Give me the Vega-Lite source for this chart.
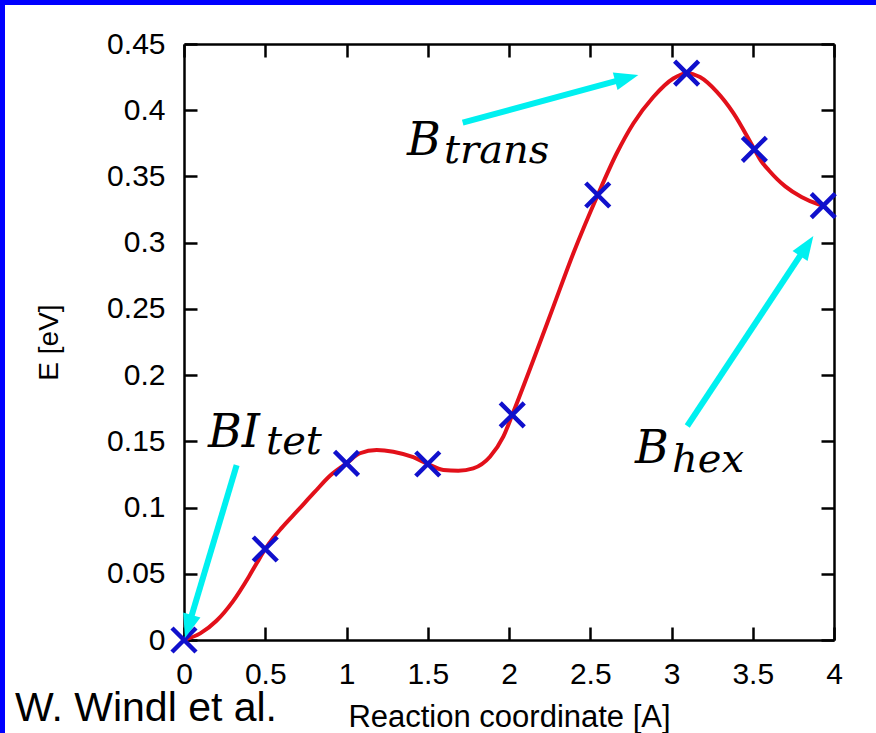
{
  "$schema": "https://vega.github.io/schema/vega-lite/v6.json",
  "width": 650,
  "height": 596,
  "autosize": {"type": "none"},
  "padding": {"left": 184, "top": 44, "right": 42, "bottom": 93},
  "background": "white",
  "config": {
    "view": {"stroke": null},
    "axis": {
      "grid": false,
      "domainColor": "black",
      "domainWidth": 2.5,
      "tickColor": "black",
      "tickWidth": 2.5,
      "tickSize": -13,
      "labelFont": "Liberation Sans",
      "labelFontSize": 30,
      "labelColor": "black",
      "labelFlush": false,
      "labelOverlap": false,
      "titleFont": "Liberation Sans",
      "titleFontWeight": "normal",
      "titleColor": "black"
    }
  },
  "datasets": {
    "curve": [
      {"x": 0, "e": 0},
      {"x": 0.1, "e": 0.005},
      {"x": 0.2, "e": 0.0145},
      {"x": 0.3, "e": 0.029},
      {"x": 0.4, "e": 0.048},
      {"x": 0.45, "e": 0.0585},
      {"x": 0.5, "e": 0.0687},
      {"x": 0.55, "e": 0.0772},
      {"x": 0.6, "e": 0.0845},
      {"x": 0.7, "e": 0.0978},
      {"x": 0.8, "e": 0.1112},
      {"x": 0.9, "e": 0.1242},
      {"x": 1.0, "e": 0.1334},
      {"x": 1.083, "e": 0.141},
      {"x": 1.186, "e": 0.1435},
      {"x": 1.288, "e": 0.1422},
      {"x": 1.411, "e": 0.138},
      {"x": 1.5, "e": 0.1329},
      {"x": 1.596, "e": 0.1284},
      {"x": 1.688, "e": 0.1278},
      {"x": 1.78, "e": 0.1296},
      {"x": 1.883, "e": 0.1384},
      {"x": 1.965, "e": 0.1535},
      {"x": 2.02, "e": 0.17},
      {"x": 2.15, "e": 0.2114},
      {"x": 2.273, "e": 0.2517},
      {"x": 2.396, "e": 0.292},
      {"x": 2.546, "e": 0.336},
      {"x": 2.663, "e": 0.3675},
      {"x": 2.765, "e": 0.39},
      {"x": 2.888, "e": 0.41},
      {"x": 3.011, "e": 0.424},
      {"x": 3.093, "e": 0.428},
      {"x": 3.175, "e": 0.425},
      {"x": 3.278, "e": 0.414},
      {"x": 3.38, "e": 0.398},
      {"x": 3.51, "e": 0.3705},
      {"x": 3.55, "e": 0.362},
      {"x": 3.6, "e": 0.3545},
      {"x": 3.65, "e": 0.348},
      {"x": 3.7, "e": 0.3425},
      {"x": 3.8, "e": 0.3345},
      {"x": 3.9, "e": 0.3292},
      {"x": 3.934, "e": 0.328}
    ],
    "images": [
      {"x": 0, "e": 0},
      {"x": 0.5, "e": 0.0687},
      {"x": 1.0, "e": 0.1334},
      {"x": 1.5, "e": 0.1329},
      {"x": 2.02, "e": 0.17},
      {"x": 2.546, "e": 0.336},
      {"x": 3.093, "e": 0.428},
      {"x": 3.51, "e": 0.3705},
      {"x": 3.934, "e": 0.328}
    ],
    "arrows": [
      {"site": "BI_tet", "x": 0.324, "e": 0.132, "x2": 0.029, "e2": 0.011, "tipx": 0.006, "tipe": 0.0015, "dir": 196.6},
      {"site": "B_trans", "x": 1.715, "e": 0.3906, "x2": 2.719, "e2": 0.424, "tipx": 2.796, "tipe": 0.4266, "dir": 74.8},
      {"site": "B_hex", "x": 3.097, "e": 0.1616, "x2": 3.828, "e2": 0.2969, "tipx": 3.873, "tipe": 0.305, "dir": 33.6}
    ],
    "symbols": [
      {"x": 0.148, "e": 0.146, "text": "BI"},
      {"x": 1.372, "e": 0.3662, "text": "B"},
      {"x": 2.775, "e": 0.1336, "text": "B"}
    ],
    "subscripts": [
      {"x": 0.505, "e": 0.1404, "text": "tet"},
      {"x": 1.6, "e": 0.36, "text": "trans"},
      {"x": 3.003, "e": 0.1271, "text": "hex"}
    ],
    "credit": [
      {"x": -1.04, "e": -0.0615, "text": "W. Windl et al."}
    ],
    "border": [
      {"x": -1.1323, "x2": -1.1323, "e": -0.2, "e2": 0.6},
      {"x": -1.3, "x2": 4.6, "e": 0.48324, "e2": 0.48324}
    ]
  },
  "resolve": {"axis": {"x": "independent", "y": "independent"}},
  "layer": [
    {
      "data": {"name": "curve"},
      "mark": {"type": "line", "color": "#e2101a", "strokeWidth": 4, "interpolate": "monotone"},
      "encoding": {
        "x": {
          "field": "x", "type": "quantitative",
          "scale": {"domain": [0, 4], "nice": false, "zero": false},
          "axis": {
            "orient": "bottom",
            "values": [0, 0.5, 1, 1.5, 2, 2.5, 3, 3.5, 4],
            "format": "~g",
            "labelPadding": 32,
            "title": "Reaction coordinate [A]",
            "titleFontSize": 31,
            "titlePadding": 13
          }
        },
        "y": {
          "field": "e", "type": "quantitative",
          "scale": {"domain": [0, 0.45], "nice": false, "zero": false},
          "axis": {
            "orient": "left",
            "values": [0, 0.05, 0.1, 0.15, 0.2, 0.25, 0.3, 0.35, 0.4, 0.45],
            "format": "~g",
            "labelPadding": 32,
            "title": "E [eV]",
            "titleFontSize": 28,
            "titlePadding": 43
          }
        }
      }
    },
    {
      "data": {"name": "images"},
      "mark": {"type": "point", "shape": "M-1,-1L1,1M1,-1L-1,1", "filled": false, "stroke": "#1010cc", "strokeWidth": 4.5, "size": 576, "opacity": 1},
      "encoding": {
        "x": {
          "field": "x", "type": "quantitative",
          "axis": {"orient": "top", "values": [0, 0.5, 1, 1.5, 2, 2.5, 3, 3.5, 4], "labels": false, "title": null}
        },
        "y": {
          "field": "e", "type": "quantitative",
          "axis": {"orient": "right", "values": [0, 0.05, 0.1, 0.15, 0.2, 0.25, 0.3, 0.35, 0.4, 0.45], "labels": false, "title": null}
        }
      }
    },
    {
      "data": {"name": "arrows"},
      "mark": {"type": "rule", "color": "#00f0f0", "strokeWidth": 6},
      "encoding": {
        "x": {"field": "x", "type": "quantitative", "axis": null},
        "y": {"field": "e", "type": "quantitative", "axis": null},
        "x2": {"field": "x2"},
        "y2": {"field": "e2"}
      }
    },
    {
      "data": {"name": "arrows"},
      "mark": {"type": "point", "shape": "M0,0L-0.375,1L0.375,1Z", "filled": true, "fill": "#00f0f0", "strokeWidth": 0, "size": 2304, "opacity": 1},
      "encoding": {
        "x": {"field": "tipx", "type": "quantitative", "axis": null},
        "y": {"field": "tipe", "type": "quantitative", "axis": null},
        "angle": {"field": "dir", "type": "quantitative", "scale": null}
      }
    },
    {
      "data": {"name": "symbols"},
      "mark": {"type": "text", "font": "DejaVu Serif", "fontStyle": "italic", "fontSize": 46, "align": "left", "baseline": "alphabetic", "color": "black"},
      "encoding": {
        "x": {"field": "x", "type": "quantitative", "axis": null},
        "y": {"field": "e", "type": "quantitative", "axis": null},
        "text": {"field": "text"}
      }
    },
    {
      "data": {"name": "subscripts"},
      "mark": {"type": "text", "font": "DejaVu Serif", "fontStyle": "italic", "fontSize": 40, "align": "left", "baseline": "alphabetic", "color": "black"},
      "encoding": {
        "x": {"field": "x", "type": "quantitative", "axis": null},
        "y": {"field": "e", "type": "quantitative", "axis": null},
        "text": {"field": "text"}
      }
    },
    {
      "data": {"name": "credit"},
      "mark": {"type": "text", "font": "Liberation Sans", "fontSize": 41, "align": "left", "baseline": "alphabetic", "color": "black"},
      "encoding": {
        "x": {"field": "x", "type": "quantitative", "axis": null},
        "y": {"field": "e", "type": "quantitative", "axis": null},
        "text": {"field": "text"}
      }
    },
    {
      "data": {"name": "border"},
      "mark": {"type": "rule", "color": "#0000ff", "strokeWidth": 10},
      "encoding": {
        "x": {"field": "x", "type": "quantitative", "axis": null},
        "y": {"field": "e", "type": "quantitative", "axis": null},
        "x2": {"field": "x2"},
        "y2": {"field": "e2"}
      }
    }
  ]
}
